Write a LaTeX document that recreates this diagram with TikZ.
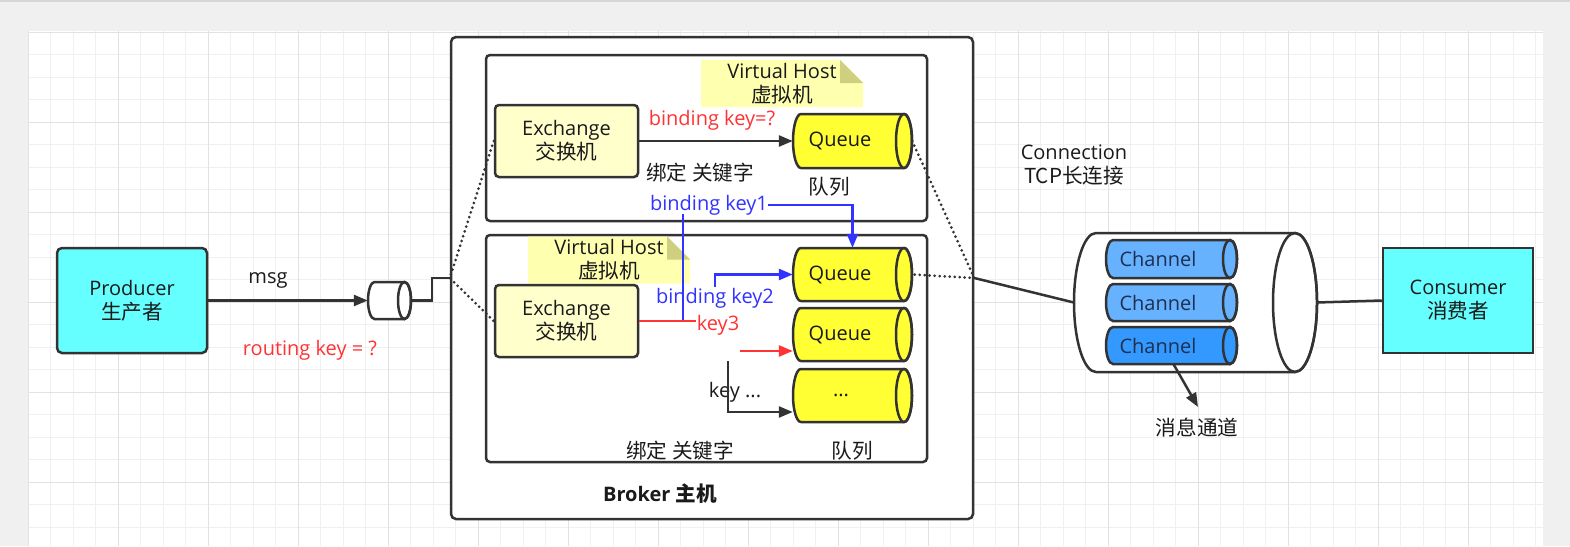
\documentclass[tikz,border=0pt]{standalone}
\usepackage{fontspec}
\setmainfont{Open Sans}
\newfontfamily\cjk[Scale=1.03]{Noto Sans CJK SC}
\usetikzlibrary{arrows.meta}
\definecolor{cyanfill}{HTML}{66FFFF}
\definecolor{lineC}{HTML}{333333}
\definecolor{txtC}{HTML}{1A1A1A}
\definecolor{exfill}{HTML}{FFFFCC}
\definecolor{notefill}{HTML}{FFFFB0}
\definecolor{foldfill}{HTML}{CFCF80}
\definecolor{qfill}{HTML}{FFFF33}
\definecolor{chA}{HTML}{66B2FF}
\definecolor{chB}{HTML}{3399FF}
\definecolor{chtxt}{HTML}{1F2F4F}
\definecolor{redT}{HTML}{FF3333}
\definecolor{blueT}{HTML}{3333FF}
\definecolor{gridminor}{HTML}{F0F0F0}
\definecolor{gridmajor}{HTML}{E2E2E2}
\definecolor{outerbg}{HTML}{F0F0F0}
\tikzset{
  lbl/.style={font=\fontsize{20}{24}\selectfont, text=txtC, inner sep=0pt, align=center},
  boxline/.style={draw=lineC, line width=2.5pt},
  conn/.style={draw=lineC, line width=2.5pt},
  arr/.style={-{Triangle[length=14pt,width=11pt]}},
  dotline/.style={draw=lineC, line width=3pt, dash pattern=on 0pt off 5pt, line cap=round},
  cylbody/.style={draw=lineC, line width=2.5pt},
  notebox/.style={lbl, minimum width=162pt, minimum height=47pt,
    path picture={
      \fill[notefill] (path picture bounding box.north west) -- ([xshift=-23pt]path picture bounding box.north east)
        -- ([yshift=-23pt]path picture bounding box.north east) -- (path picture bounding box.south east)
        -- (path picture bounding box.south west) -- cycle;
      \fill[foldfill] ([xshift=-23pt]path picture bounding box.north east) -- ([xshift=-23pt,yshift=-23pt]path picture bounding box.north east)
        -- ([yshift=-23pt]path picture bounding box.north east) -- cycle;
    }},
}
% name, x1, y1, x2, y2, rx, fill
\newcommand\mycyl[7]{%
  \pgfmathsetmacro\cylry{(#5-#3)/2}%
  \pgfmathsetmacro\cylcy{(#3+#5)/2}%
  \pgfmathsetmacro\cylcx{(#2+#4)/2}%
  \pgfmathsetmacro\cylw{#4-#2}%
  \pgfmathsetmacro\cylh{#5-#3}%
  \filldraw[cylbody, fill=#7] (#2+#6,#3) -- (#4-#6,#3)
     arc[start angle=-90,end angle=90,x radius=#6,y radius=\cylry]
     -- (#2+#6,#5) arc[start angle=90,end angle=270,x radius=#6,y radius=\cylry] -- cycle;
  \draw[cylbody] (#4-#6,\cylcy) ellipse[x radius=#6,y radius=\cylry];
  \node[inner sep=0pt, minimum width=\cylw pt, minimum height=\cylh pt] (#1) at (\cylcx,\cylcy) {};
}
\begin{document}
\begin{tikzpicture}[x=1pt,y=-1pt]
\useasboundingbox (0,0) rectangle (1570,546);
% background and grid
\fill[outerbg] (0,0) rectangle (1570,546);
\fill[black!16] (0,0) rectangle (1570,1.5);
\fill[white] (28,31) rectangle (1543,546);
\foreach \k in {0,...,67} {\draw[gridminor, line width=1pt] (28+22.5*\k,31) -- (28+22.5*\k,546);}
\foreach \k in {0,...,22} {\draw[gridminor, line width=1pt] (28,32+22.5*\k) -- (1543,32+22.5*\k);}
\foreach \k in {0,...,16} {\draw[gridmajor, line width=1pt] (28+90*\k,31) -- (28+90*\k,546);}
\foreach \k in {0,...,5} {\draw[gridmajor, line width=1pt] (28,32+90*\k) -- (1543,32+90*\k);}

% Producer / Consumer
\node[lbl, boxline, fill=cyanfill, rounded corners=5pt, minimum width=150pt, minimum height=105pt] (prod) at (132,300.5) {Producer\\{\cjk 生产者}};
\node[lbl, boxline, fill=cyanfill, minimum width=150pt, minimum height=105pt] (cons) at (1458,300.5) {Consumer\\{\cjk 消费者}};

% Broker and virtual hosts
\node[boxline, fill=white, rounded corners=5pt, minimum width=522pt, minimum height=482pt] (broker) at (712,278) {};
\node[lbl, font=\fontsize{20}{24}\selectfont\bfseries] (brokerT) at (660,494) {Broker {\cjk 主机}};
\node[boxline, fill=white, rounded corners=4pt, minimum width=441pt, minimum height=166pt] (vh1) at (706.5,138) {};
\node[boxline, fill=white, rounded corners=4pt, minimum width=441pt, minimum height=227pt] (vh2) at (706.5,348.5) {};

% notes
\node[notebox] (note1) at (782,83.5) {Virtual Host\\{\cjk 虚拟机}};
\node[notebox] (note2) at (609,260) {Virtual Host\\{\cjk 虚拟机}};

% exchanges
\node[lbl, boxline, fill=exfill, rounded corners=4pt, minimum width=143pt, minimum height=72pt] (ex1) at (566.5,141) {Exchange\\{\cjk 交换机}};
\node[lbl, boxline, fill=exfill, rounded corners=4pt, minimum width=143pt, minimum height=72pt] (ex2) at (566.5,321) {Exchange\\{\cjk 交换机}};

% queues
\mycyl{q1}{793}{114}{912}{168}{8}{qfill}
\node[lbl] (q1t) at (840,141) {Queue};
\mycyl{q2}{793}{248}{912}{301}{8}{qfill}
\node[lbl] (q2t) at (840,274.5) {Queue};
\mycyl{q3}{793}{308}{912}{361}{8}{qfill}
\node[lbl] (q3t) at (840,334.5) {Queue};
\mycyl{q4}{793}{369}{912}{422}{8}{qfill}
\node[lbl] (q4t) at (841,395.5) {...};

% small msg cylinder
\mycyl{mq}{368}{282}{411}{319}{6.5}{white}

% connection cylinder and channels
\mycyl{tcp}{1074}{233}{1317}{372}{22}{white}
\mycyl{ch1}{1106}{240}{1237}{278}{7}{chA}
\node[lbl, text=chtxt] (ch1t) at (1158,259) {Channel};
\mycyl{ch2}{1106}{284}{1237}{321}{7}{chA}
\node[lbl, text=chtxt] (ch2t) at (1158,302.5) {Channel};
\mycyl{ch3}{1106}{327}{1237}{364}{7}{chB}
\node[lbl, text=chtxt] (ch3t) at (1158,345.5) {Channel};

% labels
\node[lbl] (msgT) at (268,280) {msg};
\node[lbl, text=redT] (rkT) at (310,350) {routing key = ?};
\node[lbl, text=redT] (bkq) at (712,120) {binding key=?};
\node[lbl] (bd1) at (700,173) {\cjk 绑定 关键字};
\node[lbl] (ql1) at (829,187) {\cjk 队列};
\node[lbl, text=blueT] (bk1) at (709,205) {binding key1};
\node[lbl, text=blueT] (bk2) at (715,298) {binding key2};
\node[lbl, text=redT] (k3) at (718,325) {key3};
\node[lbl] (kd) at (735,392) {key ...};
\node[lbl] (bd2) at (680,451) {\cjk 绑定 关键字};
\node[lbl] (ql2) at (852,451) {\cjk 队列};
\node[lbl] (connT) at (1074,165.5) {Connection\\{\cjk TCP长连接}};
\node[lbl] (chanT) at (1197,428) {\cjk 消息通道};
\coordinate (chtip) at (1198,407);

% connectors
\draw[conn, arr] ([xshift=2pt]ch3.south) -- (chtip);
\draw[conn, arr] (prod.east) -- (mq.west);
\draw[conn] (mq.east) -- ++(21,0) |- (broker.west);
\draw[conn, arr] (ex1.east) -- (q1.west);
\draw[dotline] (ex1.west) -- (broker.west) -- (ex2.west);
\draw[dotline] (q1.east) -- (broker.east) -- (q2.east);
\draw[conn] (broker.east) -- (tcp.west);
\draw[conn] (tcp.east) -- (cons.west);

% bindings
\coordinate (bk1low) at (683,321);
\coordinate (bk1top) at (683,214);
\draw[blueT, line width=2.5pt] (bk1low) -- (bk1top);
\draw[blueT, line width=2.5pt, arr] (bk1.east) -| (q2.north);
\coordinate (bk2s) at (715,287);
\draw[blueT, line width=2.5pt, arr] (bk2s) |- (q2.west);
\draw[redT, line width=2.5pt] (ex2.east) -- ++(57,0);
\coordinate (k3s) at (740,351);
\draw[redT, line width=2.5pt, arr] (k3s) -- (k3s -| q3.west);
\coordinate (kds) at (728,361);
\draw[conn, arr] (kds) |- (q4.west |- 0,412);
\end{tikzpicture}
\end{document}
